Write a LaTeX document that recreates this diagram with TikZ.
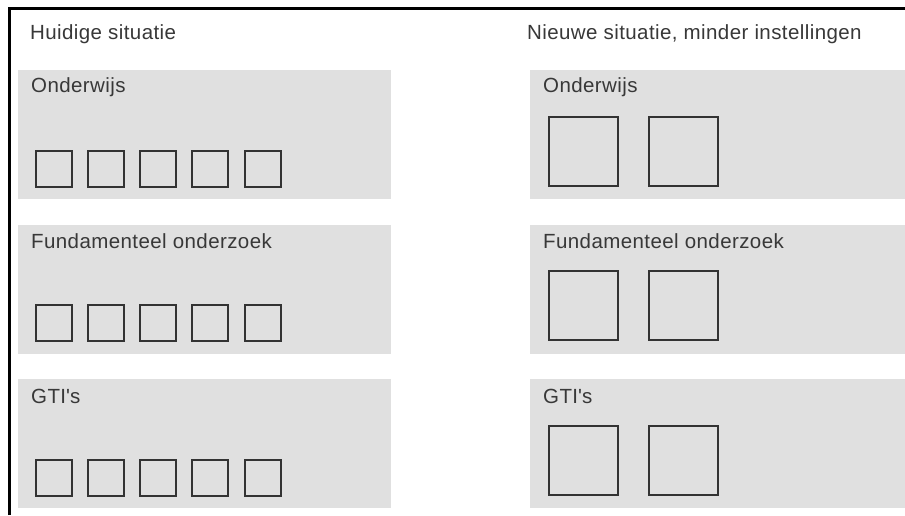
\documentclass[tikz,border=0pt]{standalone}
\usepackage{fontspec}
\setmainfont{Liberation Sans}
\definecolor{paneltxt}{HTML}{383838}
\definecolor{panelfill}{HTML}{E0E0E0}
\definecolor{boxline}{HTML}{333333}
\tikzset{
  panel/.style={fill=panelfill, draw=none, anchor=north west, inner sep=0pt, minimum height=129pt},
  lbl/.style={anchor=west, inner sep=0pt, text=paneltxt, font=\fontsize{20.5}{23}\selectfont\addfontfeatures{LetterSpace=2}},
  smallbox/.style={draw=boxline, line width=2pt, anchor=north west, inner sep=0pt, minimum width=36pt, minimum height=36pt},
  bigbox/.style={draw=boxline, line width=2pt, anchor=north west, inner sep=0pt, minimum width=69pt, minimum height=69pt},
}
\begin{document}
\begin{tikzpicture}[x=1pt,y=-1pt]
\useasboundingbox[fill=white] (0,0) rectangle (905,515);
% frame
\coordinate (fl) at (9,515);
\coordinate (fc) at (9,8.5);
\coordinate (fr) at (905,8.5);
\draw[line width=3pt, black] (fl) -- (fc) -- (fr);
% headers
\node[lbl] (h1) at (30,34) {Huidige situatie};
\node[lbl] (h2) at (527,34) {Nieuwe situatie, minder instellingen};
% panels
\foreach \t/\name/\i in {70/Onderwijs/1, 224.5/Fundamenteel onderzoek/2, 379/GTI\textquotesingle s/3}{
  \node[panel, minimum width=373pt] (L\i) at (18,\t) {};
  \node[panel, minimum width=375pt] (R\i) at (530,\t) {};
  \node[lbl] (LT\i) at (31,\t+17) {\name};
  \node[lbl] (RT\i) at (543,\t+17) {\name};
  \foreach \j/\x in {1/34.5, 2/86.5, 3/138.5, 4/191, 5/243.5}{
    \node[smallbox] (L\i b\j) at (\x,\t+79.5) {};
  }
  \node[bigbox] (R\i b1) at (547.5,\t+45.5) {};
  \node[bigbox] (R\i b2) at (648,\t+45.5) {};
}
\end{tikzpicture}
\end{document}
